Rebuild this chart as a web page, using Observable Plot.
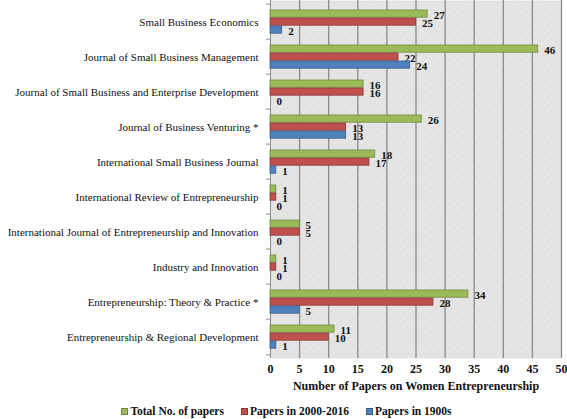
<!DOCTYPE html>
<html><head><meta charset="utf-8">
<script src="https://cdn.jsdelivr.net/npm/d3@7"></script>
<script src="https://cdn.jsdelivr.net/npm/@observablehq/plot@0.6"></script>
<style>
body{margin:0;background:#fff;font-family:"Liberation Serif",serif;}
#chart svg{display:block;font-family:"Liberation Serif",serif;}
#legend{display:flex;justify-content:center;align-items:center;gap:17px;margin-top:10px;padding-left:6px;font-size:11.5px;line-height:13px;font-weight:bold;color:#111;}
#legend .item{display:flex;align-items:center;}
#legend .sw{width:7px;height:7px;margin-right:2px;box-sizing:border-box;border:1px solid;}
</style></head><body>
<div id="chart"></div>
<div id="legend"></div>
<script>
const journals = [
  "Small Business Economics",
  "Journal of Small Business Management",
  "Journal of Small Business and Enterprise Development",
  "Journal of Business Venturing *",
  "International Small Business Journal",
  "International Review of Entrepreneurship",
  "International Journal of Entrepreneurship and Innovation",
  "Industry and Innovation",
  "Entrepreneurship: Theory & Practice *",
  "Entrepreneurship & Regional Development"
];
const totalPapers = [27, 46, 16, 26, 18, 1, 5, 1, 34, 11];
const papers2000to2016 = [25, 22, 16, 13, 17, 1, 5, 1, 28, 10];
const papers1900s = [2, 24, 0, 13, 1, 0, 0, 0, 5, 1];
const seriesNames = ["Total No. of papers", "Papers in 2000-2016", "Papers in 1900s"];
const seriesColors = ["#9bbb59", "#c0504d", "#4f81bd"];
const seriesStrokes = ["#71893f", "#8c3836", "#385d8a"];
const xTicks = [0, 5, 10, 15, 20, 25, 30, 35, 40, 45, 50];
const xLabel = "Number of Papers on Women Entrepreneurship";

const W = 567, H = 395, mT = 0, mB = 37, mL = 270, mR = 6;
const bandH = (H - mT - mB) / journals.length;
const seriesValues = [totalPapers, papers2000to2016, papers1900s];
const barSlots = [[6, 14], [14, 22], [22, 30]];

const barMarks = [];
seriesValues.forEach((vals, k) => {
  const data = journals.map((j, i) => ({journal: j, value: vals[i]}));
  const [t, b] = barSlots[k];
  barMarks.push(Plot.barX(data, {
    y: "journal", x1: 0, x2: "value",
    insetTop: t, insetBottom: bandH - b,
    fill: seriesColors[k], stroke: seriesStrokes[k], strokeWidth: 0.8
  }));
  barMarks.push(Plot.text(data, {
    y: "journal", x: "value", text: d => String(d.value),
    dy: (t + b) / 2 - bandH / 2 + 1, dx: 6, textAnchor: "start",
    fontWeight: "bold", fontSize: 11, fill: "#111"
  }));
});

const chart = Plot.plot({
  width: W, height: H,
  marginTop: mT, marginBottom: mB, marginLeft: mL, marginRight: mR,
  style: {fontFamily: "Liberation Serif, serif", fontSize: "11px", color: "#111", background: "#fff"},
  x: {domain: [0, 50], ticks: xTicks},
  y: {domain: journals, padding: 0},
  marks: [
    Plot.frame({fill: "#e3e3e3"}),
    Plot.frame({fill: "url(#dots)"}),
    Plot.ruleX(xTicks.slice(1), {stroke: "#8a8a8a", strokeWidth: 1.3}),
    Plot.ruleX([0], {stroke: "#8a8a8a", strokeWidth: 1}),
    Plot.ruleY(journals, {y: d => d, x1: -0.7, x2: 0, dy: -bandH / 2, stroke: "#8a8a8a"}),
    Plot.ruleY([journals[journals.length - 1]], {y: d => d, x1: -0.7, x2: 0, dy: bandH / 2, stroke: "#8a8a8a"}),
    ...barMarks,
    Plot.axisY({tickSize: 0, tickPadding: 12, label: null, fontSize: 11}),
    Plot.axisX({ticks: xTicks, tickSize: 0, tickPadding: 6, label: null, fontWeight: "bold", fontSize: 12}),
    Plot.text([xLabel], {frameAnchor: "bottom", dy: 31, text: d => d, fontWeight: "bold", fontSize: 12, fill: "#111"})
  ]
});

const svg = d3.select(chart);
const defs = svg.insert("defs", ":first-child");
const pat = defs.append("pattern").attr("id", "dots").attr("patternUnits", "userSpaceOnUse")
  .attr("width", 9).attr("height", 9);
[[1.5, 7.5], [4, 5.5], [7, 2.5]].forEach(([cx, cy]) =>
  pat.append("circle").attr("cx", cx).attr("cy", cy).attr("r", 0.6).attr("fill", "#fff"));

document.getElementById("chart").appendChild(chart);

const legend = d3.select("#legend");
seriesNames.forEach((n, k) => {
  const it = legend.append("div").attr("class", "item");
  it.append("div").attr("class", "sw").style("background", seriesColors[k]).style("border-color", seriesStrokes[k]);
  it.append("span").text(n);
});
</script>
</body></html>
